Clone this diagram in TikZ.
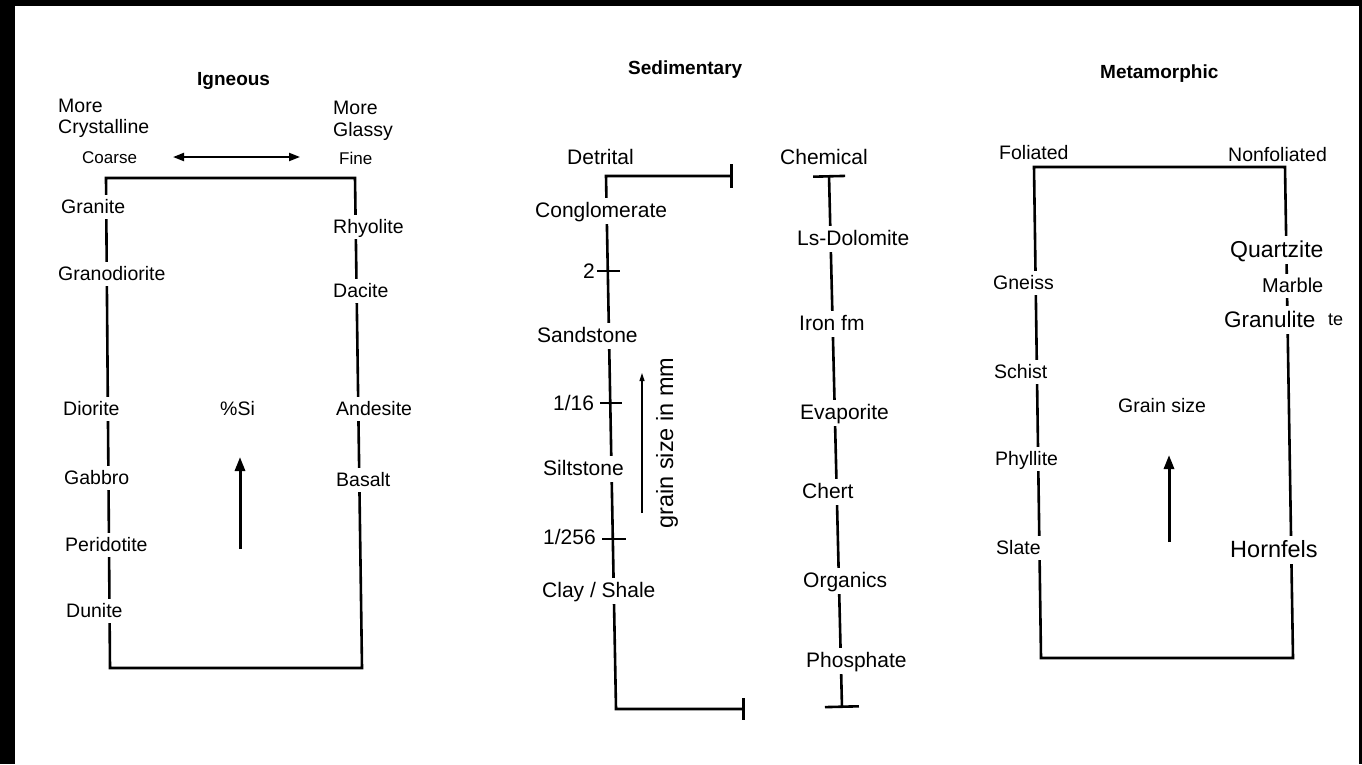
\documentclass[tikz,border=0pt]{standalone}
\usepackage{fontspec}
\setmainfont{Liberation Sans}
\usetikzlibrary{arrows.meta}
\newcommand\myfs[1]{\fontsize{#1}{#1}\selectfont}
\begin{document}
\begin{tikzpicture}[x=1pt,y=-1pt,
  boxline/.style={line width=2.6pt},
  lab/.style={fill=white, inner xsep=1pt, inner ysep=3pt, anchor=base west, font=\myfs{19.5}, text height=15pt, text depth=3pt},
  sed/.style={lab, font=\myfs{21}, text height=16pt, text depth=3.5pt},
  big/.style={lab, font=\myfs{23}, text height=18pt, text depth=3.5pt},
  ttl/.style={anchor=base west, inner sep=0pt, font=\bfseries\myfs{19}},
  small/.style={anchor=base west, inner sep=0pt, font=\myfs{17}},
  bigarrow/.style={line width=3pt, -{Triangle[length=14pt,width=10pt]}},
]
\useasboundingbox (0,0) rectangle (1362,764);
% scan border
\fill[black] (0,0) rectangle (15,764);
\fill[black] (0,0) rectangle (1362,6);
\fill[black] (1359,0) rectangle (1362,764);

% ---------------- Igneous ----------------
\coordinate (iTL) at (106,178);
\coordinate (iTR) at (355,178);
\coordinate (iBL) at (110,668);
\coordinate (iBR) at (362,668);
\draw[boxline] (iTL) -- (iBL) -- (iBR) -- (iTR) -- cycle;
\coordinate (caL) at (173,157);
\coordinate (caR) at (300,157);
\draw[line width=2pt, {Triangle[length=11pt,width=8pt]}-{Triangle[length=11pt,width=8pt]}] (caL) -- (caR);
\coordinate (siB) at (240,549);
\coordinate (siT) at (240,457);
\draw[bigarrow] (siB) -- (siT);

\node[ttl] (igt) at (197,85) {Igneous};
\node[lab,fill=none] (more1) at (57,112) {More};
\node[lab,fill=none] (cryst) at (57,133) {Crystalline};
\node[lab,fill=none] (more2) at (332,114) {More};
\node[lab,fill=none] (glassy) at (332,136) {Glassy};
\node[small] (coarse) at (82,163) {Coarse};
\node[small] (fine) at (339,164) {Fine};
\node[lab] (granite) at (60,213) {Granite};
\node[lab] (granod) at (57,280) {Granodiorite};
\node[lab] (diorite) at (62,415) {Diorite};
\node[lab] (gabbro) at (63,484) {Gabbro};
\node[lab] (perid) at (64,551) {Peridotite};
\node[lab] (dunite) at (65,617) {Dunite};
\node[lab] (rhyo) at (332,233) {Rhyolite};
\node[lab] (dacite) at (332,297) {Dacite};
\node[lab] (andes) at (335,415) {Andesite};
\node[lab] (basalt) at (335,486) {Basalt};
\node[lab,fill=none] (si) at (219,415) {\%Si};

% ---------------- Sedimentary ----------------
\coordinate (dTR) at (733,176);
\coordinate (dTL) at (606,176);
\coordinate (dBL) at (616,709);
\coordinate (dBR) at (745,709);
\draw[boxline, {Bar[width=24pt]}-{Bar[width=22pt]}] (dTR) -- (dTL) -- (dBL) -- (dBR);
\coordinate (t2a) at (597,271);   \coordinate (t2b) at (620,271);
\coordinate (t16a) at (600,403);  \coordinate (t16b) at (622,403);
\coordinate (t256a) at (602,539); \coordinate (t256b) at (626,539);
\draw[boxline] (t2a) -- (t2b);
\draw[boxline] (t16a) -- (t16b);
\draw[boxline] (t256a) -- (t256b);
\coordinate (cT) at (829,175);
\coordinate (cB) at (842,708);
\draw[boxline, {Bar[width=32pt]}-{Bar[width=34pt]}] (cT) -- (cB);
\coordinate (gsB) at (642,513);
\coordinate (gsT) at (642,373);
\draw[line width=1.2pt, -{Triangle[length=8pt,width=5pt]}] (gsB) -- (gsT);

\node[ttl] (sedt) at (628,74) {Sedimentary};
\node[sed,fill=none] (detr) at (566,164) {Detrital};
\node[sed,fill=none] (chem) at (779,164) {Chemical};
\node[sed] (congl) at (534,217) {Conglomerate};
\node[sed,fill=none] (m2) at (582,278) {2};
\node[sed] (sand) at (536,342) {Sandstone};
\node[sed,fill=none] (m16) at (552,410) {1/16};
\node[sed] (silt) at (542,475) {Siltstone};
\node[sed,fill=none] (m256) at (542,544) {1/256};
\node[sed] (clay) at (541,597) {Clay / Shale};
\node[sed] (lsdol) at (796,245) {Ls-Dolomite};
\node[sed] (iron) at (798,330) {Iron fm};
\node[sed] (evap) at (799,419) {Evaporite};
\node[sed] (chert) at (801,498) {Chert};
\node[sed] (organ) at (802,587) {Organics};
\node[sed] (phos) at (805,667) {Phosphate};
\node[anchor=base, rotate=90, inner sep=0pt, font=\myfs{23.5}] (gsize) at (673,443) {grain size in mm};

% ---------------- Metamorphic ----------------
\coordinate (mTL) at (1034,167);
\coordinate (mTR) at (1285,167);
\coordinate (mBL) at (1041,658);
\coordinate (mBR) at (1293,658);
\draw[boxline] (mTL) -- (mBL) -- (mBR) -- (mTR) -- cycle;
\coordinate (mgB) at (1169,542);
\coordinate (mgT) at (1169,455);
\draw[bigarrow] (mgB) -- (mgT);

\node[ttl] (mett) at (1100,78) {Metamorphic};
\node[lab,fill=none] (fol) at (998,159) {Foliated};
\node[lab,fill=none] (nonfol) at (1227,161) {Nonfoliated};
\node[lab] (gneiss) at (992,289) {Gneiss};
\node[lab] (schist) at (993,378) {Schist};
\node[lab] (phyll) at (994,465) {Phyllite};
\node[lab] (slate) at (995,554) {Slate};
\node[big] (quartz) at (1229,257) {Quartzite};
\node[lab, font=\myfs{20}, text height=15.5pt] (marble) at (1261,292) {Marble};
\node[big, font=\myfs{22.5}] (granul) at (1223,327) {Granulite};
\node[anchor=base west, inner sep=0pt, font=\myfs{18}] (te) at (1328,325) {te};
\node[big, font=\myfs{23.5}] (hornf) at (1229,557) {Hornfels};
\node[lab,fill=none] (gsz) at (1117,412) {Grain size};
\end{tikzpicture}
\end{document}
